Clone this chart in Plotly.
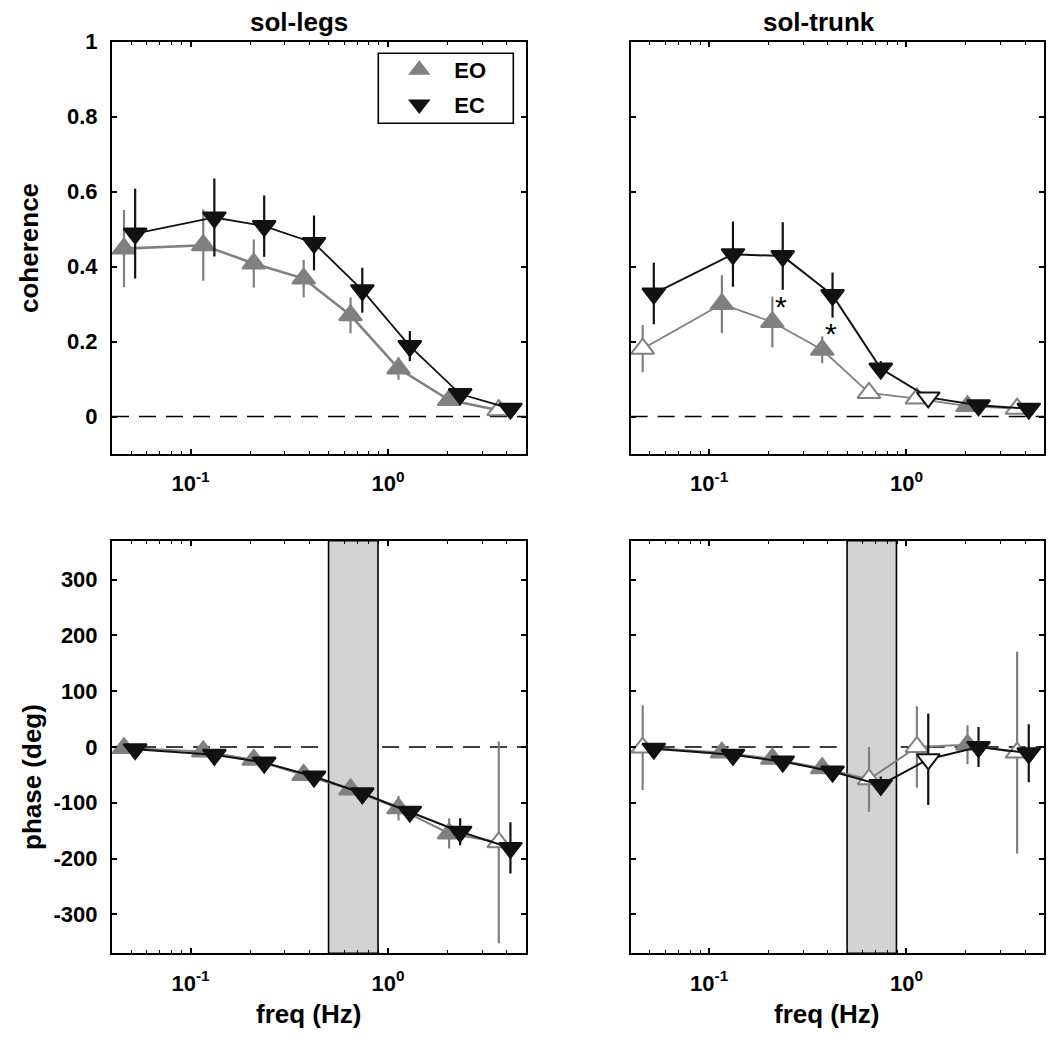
import math
import plotly.graph_objects as go

# ---------------- data ----------------
# frequencies (Hz); EC points are drawn slightly offset to the right of EO
freq_eo = [0.046, 0.116, 0.209, 0.374, 0.646, 1.13, 2.04, 3.64]
freq_ec = [0.0524, 0.132, 0.236, 0.422, 0.741, 1.29, 2.32, 4.17]

# sol-legs coherence
coh_legs_eo = [0.448, 0.457, 0.408, 0.368, 0.270, 0.128, 0.044, 0.017]
coh_legs_eo_err = [0.103, 0.095, 0.064, 0.050, 0.048, 0.030, 0.010, 0.008]
coh_legs_ec = [0.488, 0.531, 0.508, 0.463, 0.337, 0.188, 0.060, 0.021]
coh_legs_ec_err = [0.120, 0.104, 0.082, 0.073, 0.060, 0.040, 0.012, 0.008]

# sol-trunk coherence
coh_trunk_eo = [0.181, 0.300, 0.252, 0.178, 0.063, 0.048, 0.028, 0.021]
coh_trunk_eo_err = [0.063, 0.077, 0.068, 0.036, 0.010, 0.010, 0.008, 0.008]
coh_trunk_ec = [0.328, 0.433, 0.428, 0.324, 0.128, 0.051, 0.030, 0.021]
coh_trunk_ec_err = [0.082, 0.087, 0.090, 0.060, 0.020, 0.010, 0.008, 0.008]

# sol-legs phase (deg)
ph_legs_eo = [-2, -8, -23, -50, -76, -110, -155, -171]
ph_legs_eo_err = [4, 5, 6, 6, 8, 22, 27, 181]
ph_legs_ec = [-4, -14, -28, -53, -83, -116, -152, -181]
ph_legs_ec_err = [4, 5, 6, 6, 8, 8, 24, 46]

# sol-trunk phase (deg)
ph_trunk_eo = [-1, -10, -21, -38, -58, 0, 4, -10]
ph_trunk_eo_err = [76, 6, 6, 8, 58, 73, 35, 181]
ph_trunk_ec = [-3, -14, -26, -44, -68, -22, 0, -11]
ph_trunk_ec_err = [5, 6, 6, 8, 15, 82, 36, 52]

# open (non-significant) markers: 1 = open
open_legs_eo = [0, 0, 0, 0, 0, 0, 0, 1]
open_legs_ec = [0, 0, 0, 0, 0, 0, 0, 0]
open_trunk_eo = [1, 0, 0, 0, 1, 1, 0, 1]
open_trunk_ec = [0, 0, 0, 0, 0, 1, 0, 0]

# significant EO/EC difference (asterisks) in sol-trunk coherence
ast_trunk_idx = [2, 3]

# shaded frequency band (Hz)
band = [0.5, 0.89]

# axes / ticks
freq_range = [0.04, 5.0]
coh_range = [-0.1, 1.0]
phase_range = [-370, 370]
coh_ticks = [0, 0.2, 0.4, 0.6, 0.8, 1]
coh_tick_text = ["0", "0.2", "0.4", "0.6", "0.8", "1"]
phase_ticks = [-300, -200, -100, 0, 100, 200, 300]
phase_tick_text = ["-300", "-200", "-100", "0", "100", "200", "300"]
freq_major = [0.1, 1]
freq_major_text = ["10<sup>-1</sup>", "10<sup>0</sup>"]
freq_minor = [0.05, 0.06, 0.07, 0.08, 0.09, 0.2, 0.3, 0.4, 0.5, 0.6, 0.7, 0.8, 0.9, 2, 3, 4, 5]

titles = ["sol-legs", "sol-trunk"]

# ---------------- styling ----------------
FONT = "Liberation Sans"
GRAY = "#808080"
BLACK = "#111111"
W, H = 1050, 1042

fig = go.Figure()


def add_series(xref, yref, freq, vals, errs, opens, color, symbol, lw):
    fill = ["white" if o else color for o in opens]
    fig.add_trace(go.Scatter(
        x=freq, y=vals, xaxis=xref, yaxis=yref, mode="lines+markers",
        line=dict(color=color, width=lw),
        marker=dict(symbol=symbol, size=20, color=fill,
                    line=dict(color=color, width=2)),
        error_y=dict(type="data", array=errs, visible=True, color=color,
                     thickness=2.2, width=0),
        showlegend=False, hoverinfo="skip"))


def add_zero(xref, yref):
    fig.add_trace(go.Scatter(
        x=freq_range, y=[0, 0], xaxis=xref, yaxis=yref, mode="lines",
        line=dict(color="black", width=1.6, dash="17px,10px"),
        showlegend=False, hoverinfo="skip"))


def add_band(xref, yref):
    fig.add_trace(go.Scatter(
        x=[band[0], band[0], band[1], band[1], band[0]],
        y=[phase_range[0], phase_range[1], phase_range[1], phase_range[0], phase_range[0]],
        xaxis=xref, yaxis=yref, mode="lines", fill="toself",
        fillcolor="#d3d3d3", line=dict(color="black", width=1.6),
        showlegend=False, hoverinfo="skip"))


# top-left: sol-legs coherence
add_zero("x", "y")
add_series("x", "y", freq_eo, coh_legs_eo, coh_legs_eo_err, open_legs_eo, GRAY, "triangle-up", 2.6)
add_series("x", "y", freq_ec, coh_legs_ec, coh_legs_ec_err, open_legs_ec, BLACK, "triangle-down", 1.8)

# top-right: sol-trunk coherence
add_zero("x2", "y2")
add_series("x2", "y2", freq_eo, coh_trunk_eo, coh_trunk_eo_err, open_trunk_eo, GRAY, "triangle-up", 1.8)
add_series("x2", "y2", freq_ec, coh_trunk_ec, coh_trunk_ec_err, open_trunk_ec, BLACK, "triangle-down", 2)

# bottom-left: sol-legs phase
add_zero("x3", "y3")
add_band("x3", "y3")
add_series("x3", "y3", freq_eo, ph_legs_eo, ph_legs_eo_err, open_legs_eo, GRAY, "triangle-up", 2)
add_series("x3", "y3", freq_ec, ph_legs_ec, ph_legs_ec_err, open_legs_ec, BLACK, "triangle-down", 2)

# bottom-right: sol-trunk phase
add_zero("x4", "y4")
add_band("x4", "y4")
add_series("x4", "y4", freq_eo, ph_trunk_eo, ph_trunk_eo_err, open_trunk_eo, GRAY, "triangle-up", 2)
add_series("x4", "y4", freq_ec, ph_trunk_ec, ph_trunk_ec_err, open_trunk_ec, BLACK, "triangle-down", 2)

# legend-only entries
for name, color, sym, grp in [("EO", GRAY, "triangle-up", "a"), ("EC", BLACK, "triangle-down", "b")]:
    fig.add_trace(go.Scatter(
        x=[None], y=[None], xaxis="x", yaxis="y", mode="markers", name=name,
        legendgroup=grp,
        marker=dict(symbol=sym, size=20, color=color, line=dict(color=color, width=2)),
        showlegend=True))

# ---------------- layout ----------------
colx = [(112 / W, 526 / W), (630.7 / W, 1044.3 / W)]
rowy = [(1 - 454 / H, 1 - 41.7 / H), (1 - 953.3 / H, 1 - 540.7 / H)]

tickfont = dict(family=FONT, size=22, color="black", weight="bold")


def xaxis(domain, anchor):
    return dict(
        domain=domain, anchor=anchor, type="log", automargin=False,
        range=[math.log10(freq_range[0]), math.log10(freq_range[1])],
        tickmode="array", tickvals=freq_major, ticktext=freq_major_text,
        ticks="inside", ticklen=5, tickwidth=1.5, tickcolor="black",
        minor=dict(tickmode="array", tickvals=freq_minor, ticks="inside",
                   ticklen=3, tickwidth=1.2, tickcolor="black", showgrid=False),
        showline=True, linecolor="black", linewidth=2, mirror="ticks",
        showgrid=False, zeroline=False, tickfont=tickfont,
        ticklabelstandoff=9)


def yaxis(domain, anchor, rng, tv, tt, labels):
    return dict(
        domain=domain, anchor=anchor, range=rng, tickmode="array", tickvals=tv,
        ticktext=tt, automargin=False,
        ticks="inside", ticklen=5, tickwidth=1.5, tickcolor="black",
        showline=True, linecolor="black", linewidth=2, mirror="ticks",
        showgrid=False, zeroline=False, tickfont=tickfont,
        showticklabels=labels, ticklabelstandoff=8)


annotations = []
title_font = dict(family=FONT, size=26, color="black", weight="bold")
for txt, cx in zip(titles, [299, 819]):
    annotations.append(dict(text=txt, x=cx / W, y=1 - 22 / H, xref="paper", yref="paper",
                            showarrow=False, font=title_font, xanchor="center", yanchor="middle"))
for cx in [308, 826]:
    annotations.append(dict(text="freq (Hz)", x=cx / W, y=1 - 1014 / H, xref="paper", yref="paper",
                            showarrow=False, font=title_font, xanchor="center", yanchor="middle"))
annotations.append(dict(text="coherence", x=29 / W, y=1 - 248 / H, xref="paper", yref="paper",
                        textangle=-90, showarrow=False, font=title_font,
                        xanchor="center", yanchor="middle"))
annotations.append(dict(text="phase (deg)", x=32 / W, y=1 - 777 / H, xref="paper", yref="paper",
                        textangle=-90, showarrow=False, font=title_font,
                        xanchor="center", yanchor="middle"))
for i in ast_trunk_idx:
    annotations.append(dict(text="*", x=math.log10(freq_eo[i]), y=coh_trunk_eo[i],
                            xref="x2", yref="y2", xshift=9, yshift=16, showarrow=False,
                            font=dict(family=FONT, size=30, color="black"),
                            xanchor="center", yanchor="middle"))

# legend frame
shapes = [dict(type="rect", xref="paper", yref="paper",
               x0=378.3 / W, x1=513.3 / W, y0=1 - 123.3 / H, y1=1 - 53.3 / H,
               line=dict(color="black", width=1.6), fillcolor="white", layer="above")]

fig.update_layout(
    width=W, height=H, autosize=False,
    margin=dict(l=0, r=0, t=0, b=0, pad=0),
    paper_bgcolor="white", plot_bgcolor="white",
    xaxis=xaxis(colx[0], "y"), yaxis=yaxis(rowy[0], "x", coh_range, coh_ticks, coh_tick_text, True),
    xaxis2=xaxis(colx[1], "y2"), yaxis2=yaxis(rowy[0], "x2", coh_range, coh_ticks, coh_tick_text, False),
    xaxis3=xaxis(colx[0], "y3"), yaxis3=yaxis(rowy[1], "x3", phase_range, phase_ticks, phase_tick_text, True),
    xaxis4=xaxis(colx[1], "y4"), yaxis4=yaxis(rowy[1], "x4", phase_range, phase_ticks, phase_tick_text, False),
    legend=dict(x=384.3 / W, y=1 - 49 / H, xanchor="left", yanchor="top",
                borderwidth=0, bgcolor="rgba(0,0,0,0)",
                font=dict(family=FONT, size=22, color="black", weight="bold"),
                itemwidth=60, traceorder="grouped", tracegroupgap=3),
    annotations=annotations,
    shapes=shapes,
    showlegend=True,
)

fig.write_html("out.html", config={"displayModeBar": False},
               post_script="document.body.style.margin='0px';")
